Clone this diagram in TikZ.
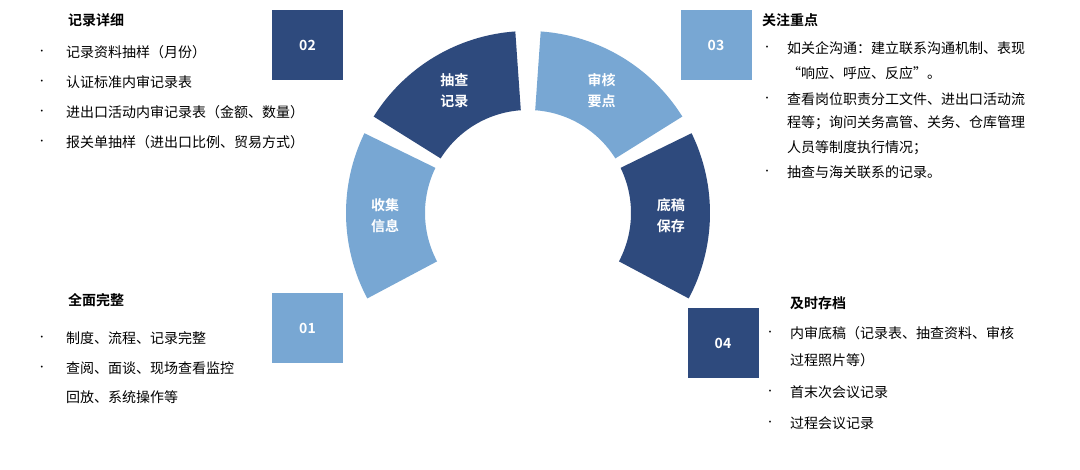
\documentclass[tikz,border=0pt]{standalone}
\usepackage{fontspec}
\usetikzlibrary{calc}
\setmainfont{Noto Sans CJK SC}[BoldFont={Noto Sans CJK SC Bold}]
\definecolor{dk}{HTML}{2E4A7D}
\definecolor{lt}{HTML}{78A7D3}
\begin{document}
\begin{tikzpicture}[x=1pt,y=-1pt,
  segtxt/.style={text=white,font=\fontsize{14}{21}\selectfont\bfseries,align=center,inner sep=0pt},
  numbox/.style={minimum width=71pt,minimum height=70pt,inner sep=0pt,text=white,font=\fontsize{14}{18}\selectfont\bfseries},
  head/.style={anchor=west,font=\fontsize{14}{18}\selectfont\bfseries,inner sep=0pt},
  item/.style={anchor=west,font=\fontsize{14}{18}\selectfont,inner sep=0pt},
  dot/.style={anchor=center,font=\fontsize{9}{12}\selectfont,inner sep=0pt}]
\useasboundingbox (0,0) rectangle (1080,469);
\coordinate (c) at (528,213);
\def\seg#1#2#3{\fill[#3] ($(c)+(-#1:182)$) arc[start angle=-#1,end angle=-#2,radius=182] -- ($(c)+(-#2:103)$) arc[start angle=-#2,end angle=-#1,radius=103] -- cycle;}
\seg{208}{154}{lt}
\seg{148}{94}{dk}
\seg{86}{32}{lt}
\seg{26}{-28}{dk}
\node[segtxt] (s1) at ($(c)+(-181:143)$) {收集\\信息};
\node[segtxt] (s2) at ($(c)+(-121:143)$) {抽查\\记录};
\node[segtxt] (s3) at ($(c)+(-59:143)$) {审核\\要点};
\node[segtxt] (s4) at ($(c)+(1:143)$) {底稿\\保存};
% number boxes
\node[numbox,fill=dk] (b2) at (307.5,45) {02};
\node[numbox,fill=lt] (b3) at (716,45) {03};
\node[numbox,fill=lt] (b1) at (307.5,328) {01};
\node[numbox,fill=dk] (b4) at (723,343) {04};
% top-left
\node[head] (h2) at (68,20) {记录详细};
\foreach \t [count=\i] in {记录资料抽样（月份）,认证标准内审记录表,进出口活动内审记录表（金额、数量）,报关单抽样（进出口比例、贸易方式）}{
  \node[dot] (d2\i) at (42,{22+30*\i}) {•};
  \node[item] (t2\i) at (66,{22+30*\i}) {\t};}
% bottom-left
\node[head] (h1) at (68,300) {全面完整};
\node[dot] (d11) at (42,338) {•};
\node[item] (t11) at (66,338) {制度、流程、记录完整};
\node[dot] (d12) at (42,368) {•};
\node[item] (t12) at (66,368) {查阅、面谈、现场查看监控};
\node[item] (t13) at (66,397) {回放、系统操作等};
% top-right
\node[head] (h3) at (762,20) {关注重点};
\node[dot] (d31) at (767,48) {•};
\node[item] (t31) at (787,48) {如关企沟通：建立联系沟通机制、表现};
\node[item] (t32) at (787,73) {“响应、呼应、反应”。};
\node[dot] (d33) at (767,99) {•};
\node[item] (t33) at (787,99) {查看岗位职责分工文件、进出口活动流};
\node[item] (t34) at (787,123) {程等；询问关务高管、关务、仓库管理};
\node[item] (t35) at (787,148) {人员等制度执行情况；};
\node[dot] (d36) at (767,172) {•};
\node[item] (t36) at (787,172) {抽查与海关联系的记录。};
% bottom-right
\node[head] (h4) at (790,303) {及时存档};
\node[dot] (d41) at (770,333) {•};
\node[item] (t41) at (790,333) {内审底稿（记录表、抽查资料、审核};
\node[item] (t42) at (790,360) {过程照片等）};
\node[dot] (d43) at (770,392) {•};
\node[item] (t43) at (790,392) {首末次会议记录};
\node[dot] (d44) at (770,423) {•};
\node[item] (t44) at (790,423) {过程会议记录};
\end{tikzpicture}
\end{document}
